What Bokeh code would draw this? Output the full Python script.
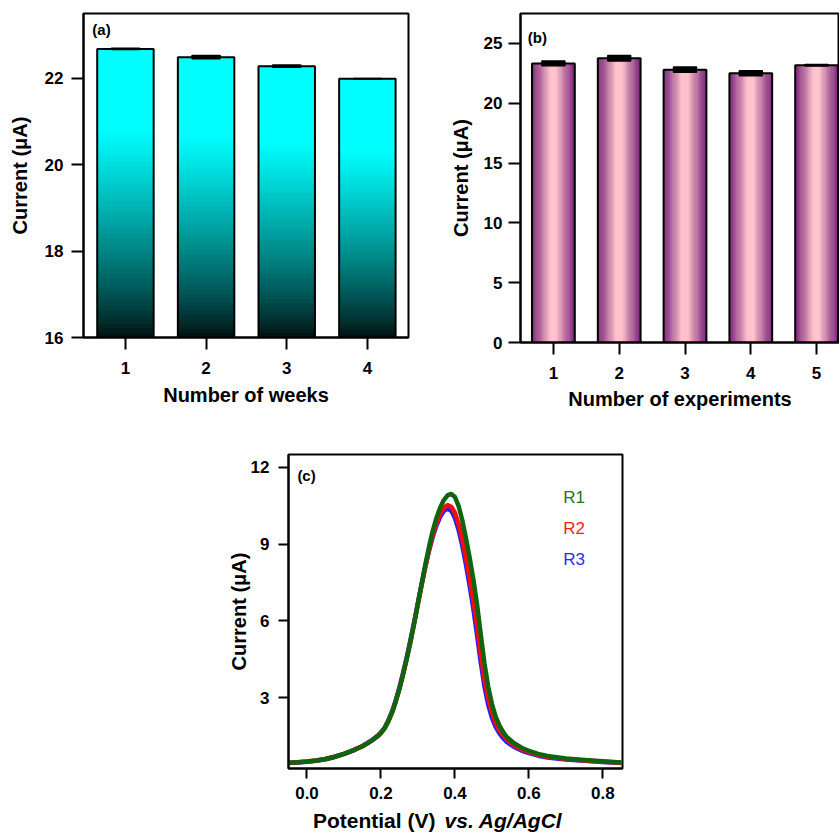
from bokeh.plotting import figure
from bokeh.models import Range1d, FixedTicker, Label, ColumnDataSource, PrintfTickFormatter, Spacer
from bokeh.layouts import row, column
from bokeh.embed import file_html
from bokeh.resources import INLINE

FONT = "Liberation Sans"

# ---------------- data ----------------
weeks = [1, 2, 3, 4]
week_current = [22.68, 22.49, 22.28, 21.99]
week_error = [0.015, 0.04, 0.025, 0.008]

experiments = [1, 2, 3, 4, 5]
exp_current = [23.33, 23.75, 22.80, 22.50, 23.17]
exp_error = [0.20, 0.23, 0.22, 0.21, 0.06]

potential = [-0.05, -0.025, 0.0, 0.025, 0.05, 0.075, 0.1, 0.125, 0.15, 0.175,
             0.19, 0.2, 0.21, 0.22, 0.23, 0.24, 0.25, 0.26, 0.27, 0.28,
             0.29, 0.3, 0.31, 0.32, 0.33, 0.34, 0.35, 0.36, 0.37, 0.38,
             0.39, 0.4, 0.41, 0.42, 0.43, 0.44, 0.45, 0.46, 0.47, 0.48,
             0.49, 0.5, 0.51, 0.52, 0.53, 0.54, 0.56, 0.58, 0.6, 0.625,
             0.65, 0.7, 0.75, 0.8, 0.85]
current_r1 = [0.45, 0.47, 0.50, 0.54, 0.60, 0.69, 0.80, 0.94, 1.10, 1.32,
              1.48, 1.62, 1.80, 2.08, 2.42, 2.85, 3.35, 3.92, 4.54, 5.20,
              5.92, 6.68, 7.45, 8.20, 8.90, 9.52, 10.02, 10.42, 10.72, 10.90,
              10.96, 10.84, 10.48, 9.92, 9.22, 8.45, 7.60, 6.62, 5.45, 4.32,
              3.42, 2.76, 2.26, 1.92, 1.66, 1.46, 1.22, 1.04, 0.92, 0.80,
              0.72, 0.62, 0.56, 0.51, 0.46]
current_r2 = [0.45, 0.47, 0.50, 0.54, 0.60, 0.69, 0.80, 0.94, 1.10, 1.32,
              1.48, 1.62, 1.80, 2.08, 2.42, 2.85, 3.35, 3.92, 4.54, 5.20,
              5.92, 6.66, 7.40, 8.12, 8.78, 9.35, 9.82, 10.18, 10.42, 10.52,
              10.46, 10.22, 9.78, 9.18, 8.45, 7.65, 6.78, 5.78, 4.68, 3.72,
              2.98, 2.42, 2.02, 1.74, 1.53, 1.36, 1.14, 0.98, 0.87, 0.76,
              0.69, 0.60, 0.54, 0.49, 0.45]
current_r3 = [0.44, 0.46, 0.49, 0.53, 0.59, 0.68, 0.80, 0.94, 1.11, 1.33,
              1.50, 1.64, 1.83, 2.11, 2.46, 2.90, 3.40, 3.98, 4.60, 5.27,
              5.98, 6.72, 7.44, 8.12, 8.74, 9.28, 9.72, 10.06, 10.30, 10.38,
              10.30, 10.02, 9.55, 8.92, 8.18, 7.35, 6.45, 5.42, 4.35, 3.42,
              2.72, 2.22, 1.86, 1.61, 1.42, 1.27, 1.07, 0.93, 0.83, 0.73,
              0.66, 0.58, 0.53, 0.48, 0.44]

week_ticks = [1, 2, 3, 4]
week_yticks = [16, 18, 20, 22]
exp_ticks = [1, 2, 3, 4, 5]
exp_yticks = [0, 5, 10, 15, 20, 25]
pot_ticks = [0.0, 0.2, 0.4, 0.6, 0.8]
pot_yticks = [3, 6, 9, 12]


def hexcol(r, g, b):
    return "#%02x%02x%02x" % (int(round(r)), int(round(g)), int(round(b)))


def make_fig(xr, yr, fw, fh, bl, br, bt, bb, tick_len=12):
    p = figure(x_range=Range1d(*xr), y_range=Range1d(*yr),
               frame_width=fw, frame_height=fh,
               min_border_left=bl, min_border_right=br,
               min_border_top=bt, min_border_bottom=bb,
               toolbar_location=None, tools="", output_backend="svg")
    p.grid.visible = False
    p.outline_line_color = "black"
    p.outline_line_width = 2
    p.background_fill_color = "white"
    p.border_fill_color = "white"
    for ax in p.axis:
        ax.axis_line_width = 2
        ax.axis_line_color = "black"
        ax.major_tick_line_width = 2
        ax.major_tick_line_color = "black"
        ax.major_tick_in = 0
        ax.major_tick_out = tick_len
        ax.minor_tick_line_color = None
        ax.major_label_text_font = FONT
        ax.major_label_text_font_style = "bold"
        ax.major_label_text_font_size = "17px"
        ax.major_label_text_color = "black"
        ax.axis_label_text_font = FONT
        ax.axis_label_text_font_style = "bold"
        ax.axis_label_text_font_size = "20px"
        ax.axis_label_text_color = "black"
    return p


# ---------------- panel (a) ----------------
pa = make_fig((0.48, 4.51), (16, 23.5), 325, 324, 83, 12, 13, 81)
pa.xaxis.ticker = FixedTicker(ticks=week_ticks)
pa.yaxis.ticker = FixedTicker(ticks=week_yticks)
pa.xaxis.axis_label = "Number of weeks"
pa.yaxis.axis_label = "Current (μA)"
pa.xaxis.major_label_standoff = 12
pa.yaxis.major_label_standoff = 8
pa.xaxis.axis_label_standoff = 7
pa.yaxis.axis_label_standoff = 11


def cyan_shade(f):
    if f >= 0.72:
        s = 1.0
    else:
        s = 0.05 + 0.95 * (f / 0.72) ** 0.8
    return hexcol(0, 255 * s, 255 * s)


base_a = 16
N = 64
ga = dict(x=[], bottom=[], top=[], color=[])
for w, v in zip(weeks, week_current):
    h = v - base_a
    for i in range(N):
        ga["x"].append(w)
        ga["bottom"].append(base_a + h * i / N)
        ga["top"].append(base_a + h * min(1.0, (i + 1.8) / N))
        ga["color"].append(cyan_shade((i + 0.5) / N))
pa.vbar(x="x", width=0.7, bottom="bottom", top="top", fill_color="color",
        line_color=None, source=ColumnDataSource(ga))
pa.vbar(x=weeks, width=0.7, bottom=base_a, top=week_current, fill_color=None,
        line_color="black", line_width=2)
pa.vbar(x=weeks, width=0.35,
        bottom=[v - e for v, e in zip(week_current, week_error)],
        top=[v + e for v, e in zip(week_current, week_error)],
        fill_color="black", line_color="black", line_width=1.5)
pa.add_layout(Label(x=0.59, y=23.33, text="(a)", text_font=FONT, text_font_style="bold",
                    text_font_size="15px", text_baseline="top", text_color="black"))

# ---------------- panel (b) ----------------
pb = make_fig((0.5, 5.348), (0, 27.5), 319, 329, 100, 0, 11, 78)
pb.xaxis.ticker = FixedTicker(ticks=exp_ticks)
pb.yaxis.ticker = FixedTicker(ticks=exp_yticks)
pb.xaxis.axis_label = "Number of experiments"
pb.yaxis.axis_label = "Current (μA)"
pb.xaxis.major_label_standoff = 12
pb.yaxis.major_label_standoff = 6
pb.xaxis.axis_label_standoff = 6
pb.yaxis.axis_label_standoff = 9

pink = (255, 193, 203)
purple = (122, 38, 122)


def pink_shade(g):
    d = abs(g - 0.5) / 0.5
    t = min(1.0, max(0.0, (d - 0.15) / 0.85)) ** 0.9
    return hexcol(*[pink[k] * (1 - t) + purple[k] * t for k in range(3)])


bw = 0.65
M = 48
gb = dict(x=[], top=[], color=[])
for xv, v in zip(experiments, exp_current):
    for j in range(M):
        g = (j + 0.5) / M
        gb["x"].append(xv - bw / 2 + bw * g)
        gb["top"].append(v)
        gb["color"].append(pink_shade(g))
pb.vbar(x="x", width=bw / M * 1.6, bottom=0, top="top", fill_color="color",
        line_color=None, source=ColumnDataSource(gb))
pb.vbar(x=experiments, width=bw, bottom=0, top=exp_current, fill_color=None,
        line_color="black", line_width=2)
pb.vbar(x=experiments, width=0.35,
        bottom=[v - e for v, e in zip(exp_current, exp_error)],
        top=[v + e for v, e in zip(exp_current, exp_error)],
        fill_color="black", line_color="black", line_width=1.5)
pb.add_layout(Label(x=0.61, y=26.2, text="(b)", text_font=FONT, text_font_style="bold",
                    text_font_size="15px", text_baseline="top", text_color="black"))

# ---------------- panel (c) ----------------
pc = make_fig((-0.05, 0.853), (0.23, 12.5), 334, 314, 88, 10, 36, 40, tick_len=10)
pc.xaxis.ticker = FixedTicker(ticks=pot_ticks)
pc.yaxis.ticker = FixedTicker(ticks=pot_yticks)
pc.xaxis.formatter = PrintfTickFormatter(format="%.1f")
pc.yaxis.axis_label = "Current (μA)"
pc.xaxis.major_label_standoff = 8
pc.yaxis.major_label_standoff = 9
pc.yaxis.axis_label_standoff = -2

pc.line(potential, current_r3, line_color="#1f1fff", line_width=4.5, line_join="round")
pc.line(potential, current_r2, line_color="#ff0a0a", line_width=4.5, line_join="round")
pc.line(potential, current_r1, line_color="#0d650d", line_width=4.5, line_join="round")

pc.add_layout(Label(x=-0.026, y=12.03, text="(c)", text_font=FONT, text_font_style="bold",
                    text_font_size="15px", text_baseline="top", text_color="black"))
for txt, yy, col in [("R1", 10.82, "#267326"), ("R2", 9.6, "#ff1a1a"), ("R3", 8.4, "#2a2aff")]:
    pc.add_layout(Label(x=0.693, y=yy, text=txt, text_font=FONT, text_font_size="17px",
                        text_baseline="middle", text_color=col))

# x-axis title of (c), mixed upright / italic, in a strip under the panel
pt = figure(x_range=pc.x_range, y_range=Range1d(0, 1), frame_width=334, frame_height=24,
            min_border_left=88, min_border_right=10, min_border_top=0, min_border_bottom=0,
            toolbar_location=None, tools="", output_backend="svg")
pt.axis.visible = False
pt.grid.visible = False
pt.outline_line_color = None
pt.add_layout(Label(x=0.016, y=0.5, text="Potential (V)", text_font=FONT,
                    text_font_style="bold", text_font_size="21px",
                    text_baseline="middle", text_color="black"))
pt.add_layout(Label(x=0.372, y=0.5, text="vs. Ag/AgCl", text_font=FONT,
                    text_font_style="bold italic", text_font_size="21px",
                    text_baseline="middle", text_color="black"))

layout = column(row(pa, pb), row(Spacer(width=200, height=10), column(pc, pt)))

open("out.html", "w").write(file_html(layout, INLINE))
